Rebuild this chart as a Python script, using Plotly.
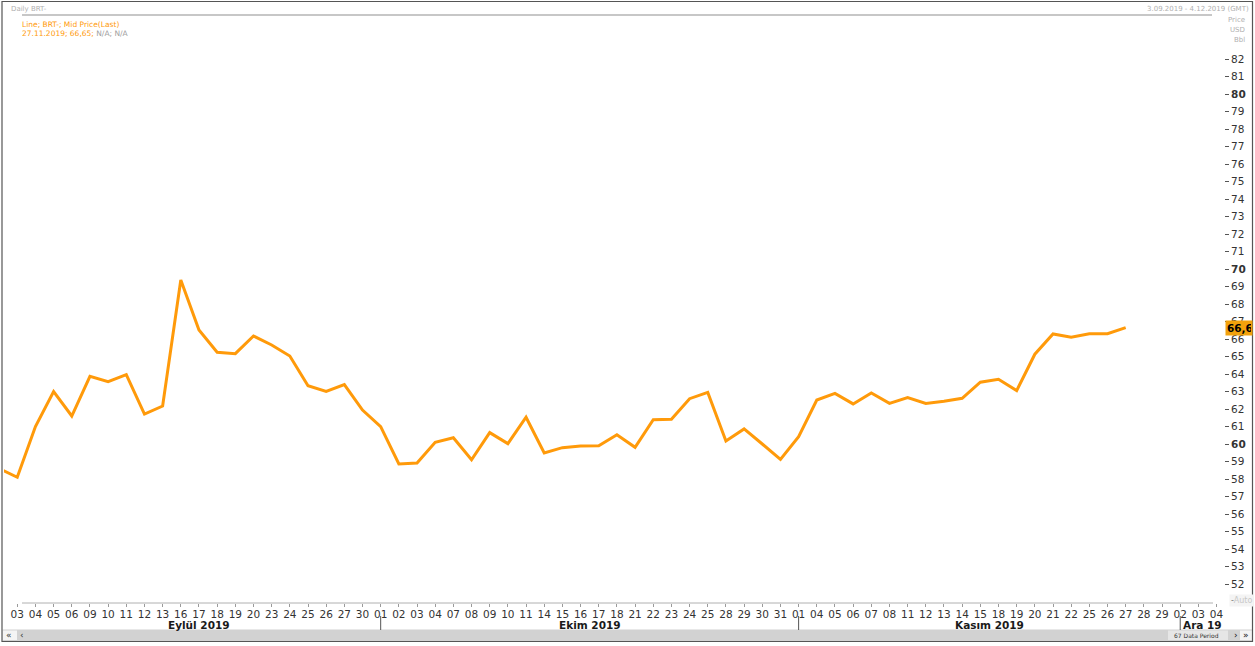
import plotly.graph_objects as go

# ---------------- data ----------------
prev_day = ["30"]            # 30 Aug 2019 (partly visible at left edge)
prev_price = [58.6]

sep_days = ["03", "04", "05", "06", "09", "10", "11", "12", "13", "16", "17", "18", "19", "20",
            "23", "24", "25", "26", "27", "30"]
sep_prices = [58.1, 61.0, 63.0, 61.6, 63.87, 63.56, 63.96, 61.71, 62.17, 69.37, 66.51, 65.24,
              65.16, 66.17, 65.66, 65.03, 63.33, 63.01, 63.39, 61.94]

oct_days = ["01", "02", "03", "04", "07", "08", "09", "10", "11", "14", "15", "16", "17", "18",
            "21", "22", "23", "24", "25", "28", "29", "30", "31"]
oct_prices = [60.99, 58.86, 58.91, 60.1, 60.36, 59.1, 60.65, 60.02, 61.53, 59.49, 59.79, 59.89,
              59.9, 60.53, 59.81, 61.39, 61.41, 62.59, 62.95, 60.17, 60.86, 60.0, 59.12]

nov_days = ["01", "04", "05", "06", "07", "08", "11", "12", "13", "14", "15", "18", "19", "20",
            "21", "22", "25", "26", "27", "28", "29"]
nov_prices = [60.42, 62.51, 62.89, 62.29, 62.91, 62.32, 62.65, 62.32, 62.44, 62.61, 63.53, 63.7,
              63.05, 65.13, 66.29, 66.1, 66.3, 66.3, 66.65, None, None]

dec_days = ["02", "03", "04"]
dec_prices = [None, None, None]

month_labels = ["Eylül 2019", "Ekim 2019", "Kasım 2019", "Ara 19"]
y_ticks = list(range(52, 83))
last_value_text = "66,65"
last_value = 66.65

# ---------------- build ----------------
months_days = [sep_days, oct_days, nov_days, dec_days]
months_prices = [sep_prices, oct_prices, nov_prices, dec_prices]

x_idx = [-1]
y_vals = list(prev_price)
tick_vals, tick_text, month_starts = [], [], []
i = 0
for days, prices in zip(months_days, months_prices):
    month_starts.append(i)
    for d, p in zip(days, prices):
        x_idx.append(i)
        y_vals.append(p)
        tick_vals.append(i)
        tick_text.append(d)
        i += 1
n = i

X_RANGE = [-0.73, 66.41]
Y_RANGE = [50.914, 84.4]

ORANGE = "#FF9A0A"
FONT = "DejaVu Sans"

fig = go.Figure()
fig.add_trace(go.Scatter(x=x_idx, y=y_vals, mode="lines", connectgaps=False,
                         line=dict(color=ORANGE, width=3), hoverinfo="skip", showlegend=False))

L, R, T, B = 4, 1224, 17, 603
W, H = R - L, B - T


def px(x):
    return (x - L) / W


def py(y):
    return (B - y) / H


shapes = []
annotations = []

# header rule
shapes.append(dict(type="line", xref="paper", yref="paper", x0=px(22), x1=px(1212),
                   y0=py(15), y1=py(15), line=dict(color="#b4b4b4", width=1.5)))
# x axis rule
shapes.append(dict(type="line", xref="paper", yref="paper", x0=px(22), x1=px(1213),
                   y0=py(603), y1=py(603), line=dict(color="#b0b0b0", width=1)))
# scrollbar
shapes.append(dict(type="rect", xref="paper", yref="paper", x0=px(2.5), x1=px(1252),
                   y0=py(641), y1=py(629.5), fillcolor="#d2d2d2", line=dict(width=0)))
shapes.append(dict(type="rect", xref="paper", yref="paper", x0=px(2.5), x1=px(17),
                   y0=py(640), y1=py(630.5), fillcolor="#f4f4f4", line=dict(width=0)))
shapes.append(dict(type="rect", xref="paper", yref="paper", x0=px(1168), x1=px(1228),
                   y0=py(640), y1=py(630.5), fillcolor="#e6e6e6", line=dict(width=0)))
shapes.append(dict(type="rect", xref="paper", yref="paper", x0=px(1240), x1=px(1252),
                   y0=py(640), y1=py(630.5), fillcolor="#f4f4f4", line=dict(width=0)))
# outer frame
shapes.append(dict(type="rect", xref="paper", yref="paper", x0=px(2), x1=px(1252.5),
                   y0=py(641.5), y1=py(1.5), line=dict(color="#555555", width=1.2), layer="above"))

# month separators & labels
for k, s in enumerate(month_starts):
    if k > 0:
        shapes.append(dict(type="line", xref="x", yref="paper", x0=s, x1=s,
                           y0=py(616), y1=py(630), line=dict(color="#555555", width=1)))
    start = max(X_RANGE[0], s)
    end = month_starts[k + 1] if k + 1 < len(month_starts) else X_RANGE[1]
    annotations.append(dict(x=(start + end) / 2, y=py(624.5), xref="x", yref="paper",
                            text="<b>%s</b>" % month_labels[k], showarrow=False,
                            font=dict(family=FONT, size=10.5, color="#1a1a1a"),
                            xanchor="center", yanchor="middle"))

# header texts
annotations.append(dict(x=px(9), y=py(9), xref="paper", yref="paper", text="Daily BRT-",
                        showarrow=False, xanchor="left", yanchor="middle",
                        font=dict(family=FONT, size=7, color="#b0b0b0")))
annotations.append(dict(x=px(1251), y=py(9), xref="paper", yref="paper",
                        text="3.09.2019 - 4.12.2019 (GMT)", showarrow=False,
                        xanchor="right", yanchor="middle",
                        font=dict(family=FONT, size=7, color="#b0b0b0")))
for txt, yy in [("Price", 20), ("USD", 30), ("Bbl", 40)]:
    annotations.append(dict(x=px(1247), y=py(yy), xref="paper", yref="paper", text=txt,
                            showarrow=False, xanchor="right", yanchor="middle",
                            font=dict(family=FONT, size=7, color="#b0b0b0")))
annotations.append(dict(x=px(20), y=py(24.5), xref="paper", yref="paper",
                        text="Line; BRT-; Mid Price(Last)", showarrow=False,
                        xanchor="left", yanchor="middle",
                        font=dict(family=FONT, size=7.5, color=ORANGE)))
annotations.append(dict(x=px(20), y=py(34), xref="paper", yref="paper",
                        text="27.11.2019; %s; <span style='color:#a0a0a0'>N/A; N/A</span>" % last_value_text,
                        showarrow=False, xanchor="left", yanchor="middle",
                        font=dict(family=FONT, size=7.5, color=ORANGE)))

# last value tag
annotations.append(dict(x=px(1225), y=last_value, xref="paper", yref="y",
                        text="<b>%s</b>" % last_value_text, showarrow=False,
                        xanchor="left", yanchor="middle", align="left", width=24,
                        bgcolor="#F2A20C", borderpad=1,
                        font=dict(family=FONT, size=10.5, color="#000000")))
# Auto label
annotations.append(dict(x=px(1229), y=py(600), xref="paper", yref="paper",
                        text="-<span style='color:#c8c8c8'>Auto</span>", showarrow=False,
                        xanchor="left", yanchor="middle", bgcolor="#f4f4f4",
                        font=dict(family=FONT, size=8, color="#777777")))
# scrollbar texts
for txt, xx in [("«", 9), ("‹", 22)]:
    annotations.append(dict(x=px(xx), y=py(635), xref="paper", yref="paper", text=txt,
                            showarrow=False, xanchor="center", yanchor="middle",
                            font=dict(family=FONT, size=9, color="#333333")))
for txt, xx in [("›", 1236), ("»", 1246)]:
    annotations.append(dict(x=px(xx), y=py(635), xref="paper", yref="paper", text=txt,
                            showarrow=False, xanchor="center", yanchor="middle",
                            font=dict(family=FONT, size=9, color="#111111")))
annotations.append(dict(x=px(1172), y=py(635), xref="paper", yref="paper",
                        text="%d Data Period" % n, showarrow=False,
                        xanchor="left", yanchor="middle",
                        font=dict(family=FONT, size=6, color="#333333")))

y_text = ["<b>%d</b>" % v if v % 10 == 0 else str(v) for v in y_ticks]

fig.update_layout(
    width=1255, height=646,
    margin=dict(l=L, r=1255 - R, t=T, b=646 - B, pad=0),
    paper_bgcolor="white", plot_bgcolor="white",
    shapes=shapes, annotations=annotations,
    xaxis=dict(range=X_RANGE, tickmode="array", tickvals=tick_vals, ticktext=tick_text,
               ticks="outside", ticklen=3, tickcolor="#9a9a9a", tickwidth=1,
               ticklabelstandoff=-2,
               showgrid=False, zeroline=False, showline=False,
               tickfont=dict(family=FONT, size=10.5, color="#333333"), fixedrange=True),
    yaxis=dict(range=Y_RANGE, side="right", tickmode="array", tickvals=y_ticks, ticktext=y_text,
               ticks="outside", ticklen=4, tickcolor="#555555", tickwidth=1,
               showgrid=False, zeroline=False, showline=False,
               tickfont=dict(family=FONT, size=10.5, color="#333333"), fixedrange=True),
    showlegend=False,
)

fig.write_html("out.html", config={"displayModeBar": False},
               post_script="document.body.style.margin='0';document.body.style.overflow='hidden';")
